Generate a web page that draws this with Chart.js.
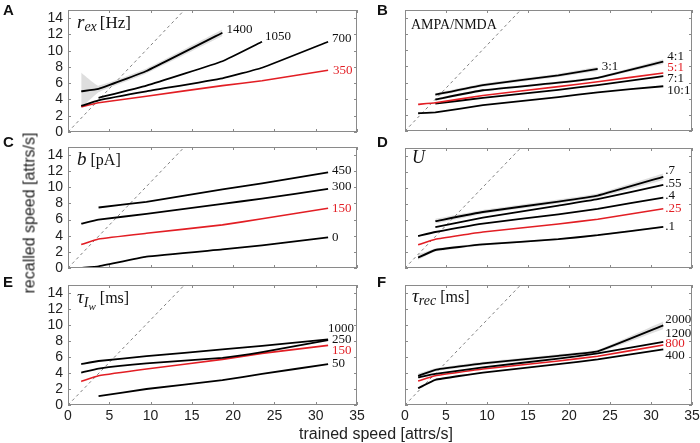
<!DOCTYPE html>
<html>
<head>
<meta charset="utf-8">
<script src="https://cdn.jsdelivr.net/npm/chart.js@4.4.1/dist/chart.umd.min.js"></script>
<style>
  body { margin: 0; background: #fff; }
  #wrap { position: relative; width: 700px; height: 443px; overflow: hidden; }
  #wrap canvas { position: absolute; left: 0; top: 0; }
  .letter { position: absolute; font: bold 15px "Liberation Sans", Arial, sans-serif; line-height: 15px; color: #111; }
  .axtitle { position: absolute; font: 16px "Liberation Sans", Arial, sans-serif; line-height: 17px; color: #222; white-space: nowrap; }
</style>
</head>
<body>
<div id="wrap">
  <canvas id="cA" width="700" height="443"></canvas>
  <canvas id="cB" width="700" height="443"></canvas>
  <canvas id="cC" width="700" height="443"></canvas>
  <canvas id="cD" width="700" height="443"></canvas>
  <canvas id="cE" width="700" height="443"></canvas>
  <canvas id="cF" width="700" height="443"></canvas>
  <div class="letter" style="left:3px;top:2px">A</div>
  <div class="letter" style="left:377px;top:2px">B</div>
  <div class="letter" style="left:3px;top:134px">C</div>
  <div class="letter" style="left:377px;top:134px">D</div>
  <div class="letter" style="left:3px;top:274px">E</div>
  <div class="letter" style="left:377px;top:274px">F</div>
  <div class="axtitle" style="left:29px;top:213px;transform:translate(-50%,-50%) rotate(-90deg)">recalled speed [attrs/s]</div>
  <div class="axtitle" style="left:376px;top:425px;transform:translateX(-50%)">trained speed [attrs/s]</div>
</div>
<script>
// trained speeds (x) shared by all panels
var speeds = [1.6, 3.7, 9.5, 18.7, 23.5, 31.5];
// identity line, as it reads off the picture
var diagX = [0, 14.1];
var diagY = [0, 15];

// A: r_ex [Hz]
var rexNames = ['1400', '1050', '700', '350'];
var rex1400 = [5.0, 5.3, 7.5, 12.2, null, null];
var rex1050 = [null, 4.2, 5.7, 8.7, 11.1, null];
var rex700 = [3.2, 3.9, 5.0, 6.6, 7.9, 11.1];
var rex350 = [3.1, 3.6, 4.4, 5.7, 6.3, 7.6];
var rex1400Lo = [3.0, 4.9, 7.2, 11.8, null, null];
var rex1400Hi = [7.3, 5.7, 7.8, 12.6, null, null];

// B: AMPA/NMDA
var ampaNames = ['3:1', '4:1', '5:1', '7:1', '10:1'];
var ampa3 = [null, 4.5, 5.7, 6.9, 7.7, null];
var ampa4 = [null, 3.9, 5.05, 6.0, 6.6, 8.6];
var ampa5 = [3.3, 3.5, 4.4, 5.5, 6.1, 7.2];
var ampa7 = [null, 3.4, 4.1, 5.1, 5.7, 6.8];
var ampa10 = [2.2, 2.3, 3.2, 4.2, 4.8, 5.55];
var ampa3Lo = [null, 4.3, 5.5, 6.7, 7.45, null];
var ampa3Hi = [null, 4.7, 5.9, 7.1, 7.95, null];
var ampa4Lo = [null, 3.75, 4.9, 5.85, 6.45, 8.3];
var ampa4Hi = [null, 4.05, 5.2, 6.15, 6.75, 8.9];

// C: b [pA]
var bNames = ['450', '300', '150', '0'];
var b450 = [null, 7.5, 8.2, 9.75, 10.5, 11.85];
var b300 = [5.5, 6.0, 6.7, 7.95, 8.6, 9.8];
var b150 = [2.9, 3.6, 4.3, 5.35, 6.1, 7.4];
var b0 = [0.0, 0.2, 1.4, 2.3, 2.8, 3.8];

// D: U
var uNames = ['.7', '.55', '.4', '.25', '.1'];
var u70 = [null, 5.85, 7.0, 8.3, 9.05, 11.4];
var u55 = [null, 5.1, 6.3, 7.8, 8.6, 10.4];
var u40 = [4.0, 4.5, 5.55, 6.7, 7.4, 8.8];
var u25 = [2.9, 3.6, 4.5, 5.5, 6.1, 7.4];
var u10 = [1.3, 2.25, 2.95, 3.6, 4.1, 5.15];
var u70Lo = [null, 5.55, 6.75, 8.05, 8.8, 11.0];
var u70Hi = [null, 6.15, 7.25, 8.55, 9.3, 11.8];
var u10Lo = [1.0, 2.05, 2.8, 3.5, 4.0, 5.05];
var u10Hi = [1.7, 2.45, 3.1, 3.7, 4.2, 5.25];

// E: tau_Iw [ms]
var tiwNames = ['1000', '250', '150', '50'];
var tiw1000 = [5.1, 5.5, 6.1, 6.95, 7.4, 8.2];
var tiw250 = [4.05, 4.55, 5.2, 5.9, 6.6, 8.1];
var tiw150 = [2.95, 3.65, 4.5, 5.7, 6.45, 7.45];
var tiw50 = [null, 1.1, 2.0, 3.1, 3.9, 5.1];

// F: tau_rec [ms]
var trecNames = ['2000', '1200', '800', '400'];
var trec2000 = [3.65, 4.4, 5.2, 6.15, 6.7, 9.95];
var trec1200 = [3.45, 3.9, 4.7, 5.8, 6.45, 7.9];
var trec800 = [3.0, 3.65, 4.5, 5.5, 6.1, 7.5];
var trec400 = [2.1, 3.15, 4.05, 5.1, 5.7, 6.95];
var trec2000Lo = [3.45, 4.2, 5.0, 5.95, 6.5, 9.5];
var trec2000Hi = [3.95, 4.6, 5.4, 6.35, 6.9, 10.45];

var RED = 'rgb(226,30,36)';
var BAND = 'rgba(200,200,200,0.6)';
var SERIF = '"Liberation Serif", "Times New Roman", serif';

Chart.defaults.font.family = '"Liberation Sans", Arial, sans-serif';
Chart.defaults.color = '#222';

function pts(vals) {
  return speeds.map(function(x, i) { return { x: x, y: vals[i] }; });
}

function makeDecor(p) {
  return {
    id: 'decor' + p.id,
    afterDatasetsDraw: function(chart) {
      var ctx = chart.ctx, a = chart.chartArea;
      var xs = chart.scales.x, ys = chart.scales.y;
      ctx.save();
      // frame + inward ticks
      ctx.strokeStyle = '#8a8a8a';
      ctx.lineWidth = 1;
      ctx.strokeRect(a.left + 0.5, a.top + 0.5, a.right - a.left - 1, a.bottom - a.top - 1);
      ctx.beginPath();
      xs.ticks.forEach(function(t) {
        var px = Math.round(xs.getPixelForValue(t.value)) + 0.5;
        ctx.moveTo(px, a.bottom); ctx.lineTo(px, a.bottom - 3);
        ctx.moveTo(px, a.top); ctx.lineTo(px, a.top + 3);
      });
      ys.ticks.forEach(function(t) {
        var py = Math.round(ys.getPixelForValue(t.value)) + 0.5;
        ctx.moveTo(a.left, py); ctx.lineTo(a.left + 3, py);
        ctx.moveTo(a.right, py); ctx.lineTo(a.right - 3, py);
      });
      ctx.stroke();

      // labels at the end of each line
      ctx.font = '13px ' + SERIF;
      ctx.textBaseline = 'middle';
      ctx.textAlign = 'left';
      p.series.forEach(function(s) {
        var i = s.vals.length - 1;
        while (i > 0 && s.vals[i] == null) i--;
        var px = xs.getPixelForValue(speeds[i]);
        var py = ys.getPixelForValue(s.vals[i]);
        ctx.fillStyle = s.red ? RED : '#111';
        ctx.fillText(s.name, px + s.dx, py + s.dy);
      });

      // parameter name, top left
      var x = a.left + p.titleAt[0], y = a.top + p.titleAt[1];
      ctx.textBaseline = 'alphabetic';
      ctx.fillStyle = '#111';
      p.title.forEach(function(seg) {
        ctx.font = seg.f + ' ' + SERIF;
        ctx.fillText(seg.t, x, y + (seg.dy || 0));
        x += ctx.measureText(seg.t).width + (seg.gap || 0);
      });
      ctx.restore();
    }
  };
}

function makePanel(p) {
  var datasets = [];
  datasets.push({
    data: diagX.map(function(x, i) { return { x: x, y: diagY[i] }; }),
    borderColor: '#808080', borderWidth: 1, borderDash: [3, 3],
    pointRadius: 0, fill: false, order: 5
  });
  (p.bands || []).forEach(function(b) {
    datasets.push({ data: pts(b[1]), borderWidth: 0, pointRadius: 0,
      backgroundColor: BAND, fill: '+1', order: 10, tension: 0.1 });
    datasets.push({ data: pts(b[0]), borderWidth: 0, pointRadius: 0,
      fill: false, order: 10, tension: 0.1 });
  });
  p.series.forEach(function(s) {
    datasets.push({
      data: pts(s.vals),
      borderColor: s.red ? RED : '#000',
      borderWidth: s.red ? 1.6 : 1.8,
      pointRadius: 0, fill: false, order: 1,
      tension: 0.1
    });
  });

  var left = p.col === 0, bottom = p.row === 2;
  var yw = left ? 40 : 0, xh = bottom ? 30 : 0;
  var r = p.rect; // chart area: l, t, r, b

  new Chart(document.getElementById('c' + p.id), {
    type: 'line',
    data: { datasets: datasets },
    options: {
      responsive: false,
      animation: false,
      devicePixelRatio: 1,
      layout: { padding: { left: r[0] - yw, top: r[1], right: 700 - r[2], bottom: 443 - r[3] - xh } },
      plugins: { legend: { display: false }, tooltip: { enabled: false } },
      scales: {
        x: {
          type: 'linear', min: 0, max: 35,
          grid: { display: false, drawTicks: false },
          border: { display: false },
          ticks: { display: bottom, stepSize: 5, autoSkip: false, maxRotation: 0, padding: 3, font: { size: 14 }, color: '#222' },
          afterFit: function(s) { s.height = xh; s.paddingLeft = 0; s.paddingRight = 0; }
        },
        y: {
          type: 'linear', min: 0, max: 15,
          grid: { display: false, drawTicks: false },
          border: { display: false },
          ticks: { display: left, stepSize: 2, autoSkip: false, includeBounds: false, padding: 5, font: { size: 14 }, color: '#222' },
          afterFit: function(s) { s.width = yw; s.paddingTop = 0; s.paddingBottom = 0; }
        }
      }
    },
    plugins: [makeDecor(p)]
  });
}

makePanel({
  id: 'A', row: 0, col: 0, rect: [68, 10, 357, 132],
  title: [{ t: 'r', f: 'italic 19px' }, { t: 'ex', f: 'italic 14px', dy: 3, gap: 3 }, { t: '[Hz]', f: '17px' }],
  titleAt: [9, 18],
  series: [
    { name: rexNames[0], vals: rex1400, dx: 4, dy: -3 },
    { name: rexNames[1], vals: rex1050, dx: 3, dy: -5 },
    { name: rexNames[2], vals: rex700, dx: 4, dy: -3 },
    { name: rexNames[3], vals: rex350, dx: 5, dy: 0, red: true }
  ],
  bands: [[rex1400Lo, rex1400Hi]]
});

makePanel({
  id: 'B', row: 0, col: 1, rect: [405, 10, 692, 131],
  title: [{ t: 'AMPA/NMDA', f: '14px' }],
  titleAt: [6, 19],
  series: [
    { name: ampaNames[0], vals: ampa3, dx: 4, dy: -2 },
    { name: ampaNames[1], vals: ampa4, dx: 4, dy: -5 },
    { name: ampaNames[2], vals: ampa5, dx: 4, dy: -5, red: true },
    { name: ampaNames[3], vals: ampa7, dx: 4, dy: 2 },
    { name: ampaNames[4], vals: ampa10, dx: 4, dy: 4 }
  ],
  bands: [[ampa3Lo, ampa3Hi], [ampa4Lo, ampa4Hi]]
});

makePanel({
  id: 'C', row: 1, col: 0, rect: [68, 147, 357, 268],
  title: [{ t: 'b', f: 'italic 19px', gap: 4 }, { t: '[pA]', f: '16px' }],
  titleAt: [9, 18],
  series: [
    { name: bNames[0], vals: b450, dx: 4, dy: -2 },
    { name: bNames[1], vals: b300, dx: 4, dy: -2 },
    { name: bNames[2], vals: b150, dx: 4, dy: 0, red: true },
    { name: bNames[3], vals: b0, dx: 4, dy: 0 }
  ]
});

makePanel({
  id: 'D', row: 1, col: 1, rect: [405, 148, 692, 268],
  title: [{ t: 'U', f: 'italic 18px' }],
  titleAt: [7, 15],
  series: [
    { name: uNames[0], vals: u70, dx: 2, dy: -6 },
    { name: uNames[1], vals: u55, dx: 2, dy: -1 },
    { name: uNames[2], vals: u40, dx: 2, dy: -2 },
    { name: uNames[3], vals: u25, dx: 2, dy: 0, red: true },
    { name: uNames[4], vals: u10, dx: 2, dy: 0 }
  ],
  bands: [[u70Lo, u70Hi], [u10Lo, u10Hi]]
});

makePanel({
  id: 'E', row: 2, col: 0, rect: [68, 285, 357, 405],
  title: [{ t: '\u03c4', f: 'italic 19px' }, { t: 'I', f: 'italic 14px', dy: 4 }, { t: 'w', f: 'italic 11px', dy: 7, gap: 4 }, { t: '[ms]', f: '16px' }],
  titleAt: [9, 18],
  series: [
    { name: tiwNames[0], vals: tiw1000, dx: 0, dy: -11 },
    { name: tiwNames[1], vals: tiw250, dx: 4, dy: -1 },
    { name: tiwNames[2], vals: tiw150, dx: 4, dy: 5, red: true },
    { name: tiwNames[3], vals: tiw50, dx: 4, dy: -1 }
  ]
});

makePanel({
  id: 'F', row: 2, col: 1, rect: [405, 285, 692, 405],
  title: [{ t: '\u03c4', f: 'italic 19px' }, { t: 'rec', f: 'italic 14px', dy: 3, gap: 4 }, { t: '[ms]', f: '16px' }],
  titleAt: [7, 17],
  series: [
    { name: trecNames[0], vals: trec2000, dx: 2, dy: -6 },
    { name: trecNames[1], vals: trec1200, dx: 2, dy: -8 },
    { name: trecNames[2], vals: trec800, dx: 2, dy: -1, red: true },
    { name: trecNames[3], vals: trec400, dx: 2, dy: 6 }
  ],
  bands: [[trec2000Lo, trec2000Hi]]
});
</script>
</body>
</html>
